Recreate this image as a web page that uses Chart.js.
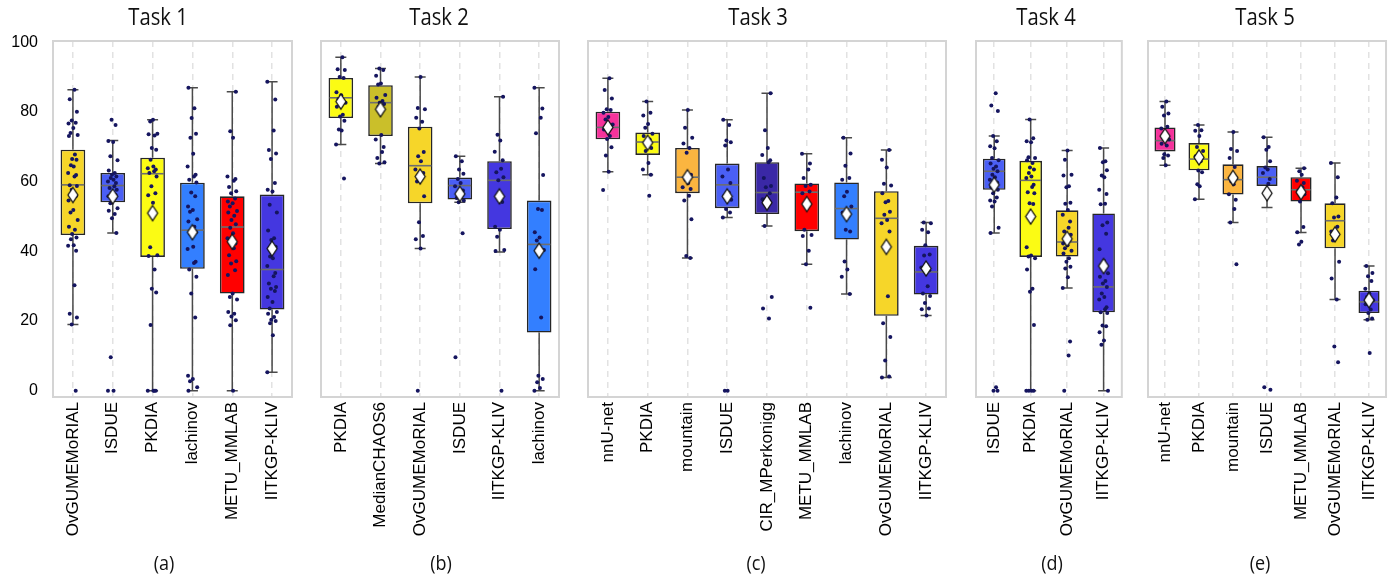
<!DOCTYPE html>
<html>
<head>
<meta charset="utf-8">
<script src="https://cdn.jsdelivr.net/npm/chart.js@4.4.1/dist/chart.umd.min.js"></script>
<style>
  html, body { margin: 0; padding: 0; background: #fff; width: 1397px; height: 581px; overflow: hidden; }
  canvas.panel { position: absolute; top: 0; }
</style>
</head>
<body>
<script>
// ---------- Task 1 ----------
const T1_TEAMS = ['OvGUMEMoRIAL', 'ISDUE', 'PKDIA', 'lachinov', 'METU_MMLAB', 'IITKGP-KLIV'];
const T1_LOW    = [19.0, 45.3, 0.0, 0.0, 0.0, 5.3];
const T1_Q1     = [44.7, 54.1, 38.4, 35.0, 27.9, 23.3];
const T1_MEDIAN = [59.1, 58.9, 62.3, 46.1, 47.0, 34.8];
const T1_Q3     = [69.2, 62.5, 66.9, 59.7, 55.8, 56.3];
const T1_HIGH   = [86.4, 71.8, 77.8, 87.0, 85.8, 88.7];
const T1_MEAN   = [56.2, 55.8, 51.0, 45.5, 42.8, 40.8];
const T1_SCORES = [
  [86.4,83.7,80.1,77.6,76.9,76.7,75.4,74.0,73.4,73.1,67.8,66.5,66.3,64.7,64.4,62.5,61.9,61.5,59.0,58.8,57.7,55.8,54.6,51.9,51.2,49.0,47.1,46.2,45.0,44.0,43.5,41.8,41.6,40.2,30.3,22.1,21.0,19.0,0],
  [77.8,76.3,71.7,71.4,67.3,66.2,63.2,62.5,62.0,61.5,61.1,60.6,60.1,59.6,58.7,58.2,57.7,56.7,56.2,55.8,55.0,53.8,52.4,51.7,50.7,49.5,45.3,9.6,0,0],
  [77.8,77.3,73.8,73.6,73.3,69.7,69.2,66.3,64.4,63.9,63.5,63.0,62.5,61.5,58.7,56.7,56.1,54.0,41.2,38.9,38.7,34.8,29.3,28.2,18.9,0,0,0,0],
  [87.0,81.1,78.3,73.8,72.6,68.0,64.4,62.0,61.5,60.6,59.8,56.9,55.8,52.9,51.9,51.4,49.2,48.6,47.1,46.2,45.5,45.0,41.3,40.7,37.0,36.7,34.8,32.7,27.9,21.0,4.3,3.4,2.7,1.0,0],
  [85.8,74.5,72.6,61.5,60.8,60.3,58.5,57.3,56.7,55.2,54.3,53.8,52.9,51.6,51.2,50.2,49.0,47.8,46.8,45.2,43.8,42.3,40.9,38.9,37.2,36.5,34.6,33.2,27.9,26.9,26.2,22.6,22.1,21.3,20.2,18.8,0],
  [88.7,83.6,74.7,69.1,68.1,66.5,59.6,57.7,57.2,53.4,51.2,46.0,43.8,43.3,41.3,38.5,38.0,35.8,33.8,32.9,30.8,29.8,29.3,28.6,26.9,25.5,23.6,22.6,22.1,21.2,20.4,20.0,19.4,15.9,5.3]
];

// ---------- Task 2 ----------
const T2_TEAMS = ['PKDIA', 'MedianCHAOS6', 'OvGUMEMoRIAL', 'ISDUE', 'IITKGP-KLIV', 'lachinov'];
const T2_LOW    = [70.7, 65.2, 40.8, 54.1, 39.8, 0.0];
const T2_Q1     = [78.3, 73.1, 53.8, 54.9, 46.4, 16.7];
const T2_MEDIAN = [84.1, 82.7, 64.6, 58.9, 60.4, 42.0];
const T2_Q3     = [89.8, 87.7, 75.8, 61.2, 65.9, 54.6];
const T2_HIGH   = [95.7, 92.5, 90.1, 67.3, 84.4, 87.0];
const T2_MEAN   = [83.0, 80.8, 61.5, 56.5, 55.8, 40.2];
const T2_SCORES = [
  [95.7,92.3,92.1,90.1,89.8,85.7,84.8,83.7,82.7,81.5,79.2,78.7,77.5,75.0,74.7,70.7,60.9],
  [92.5,92.1,90.4,88.2,87.9,84.9,84.1,83.2,82.7,82.3,81.5,73.4,72.1,70.0,68.5,66.8,65.6,65.2],
  [90.1,81.2,80.8,78.4,77.2,75.3,68.5,67.3,65.9,63.5,62.5,61.1,60.1,55.8,48.4,44.4,43.5,40.8,0],
  [67.3,65.9,63.5,62.3,60.8,59.6,58.7,57.5,56.1,55.3,54.6,54.1,45.2,9.6],
  [84.4,73.5,71.8,68.6,66.2,63.7,62.7,61.3,60.4,54.2,47.1,46.2,44.2,40.4,40.1,0],
  [87.0,81.0,78.4,73.9,61.9,52.2,51.9,45.5,44.0,43.1,40.4,34.9,21.0,4.3,3.4,2.4,0.8,0]
];

// ---------- Task 3 ----------
const T3_TEAMS = ['nnU-net', 'PKDIA', 'mountain', 'ISDUE', 'CIR_MPerkonigg', 'METU_MMLAB', 'lachinov', 'OvGUMEMoRIAL', 'IITKGP-KLIV'];
const T3_LOW    = [62.9, 62.0, 38.1, 49.7, 47.3, 36.3, 27.8, 3.8, 21.6];
const T3_Q1     = [72.2, 67.7, 56.7, 52.4, 50.7, 45.8, 43.4, 21.5, 27.6];
const T3_MEDIAN = [75.6, 71.4, 61.3, 59.1, 56.9, 57.0, 52.3, 49.5, 34.1];
const T3_Q3     = [80.1, 74.1, 69.7, 65.2, 65.6, 59.5, 59.8, 57.3, 41.6];
const T3_HIGH   = [89.7, 83.0, 80.6, 77.8, 85.4, 68.0, 72.6, 69.1, 48.3];
const T3_MEAN   = [75.6, 71.2, 61.3, 55.8, 54.0, 53.6, 50.7, 41.3, 35.1];
const T3_SCORES = [
  [89.7,86.3,83.9,80.8,80.6,79.8,78.6,77.9,76.4,75.0,73.1,72.3,69.9,67.5,62.9,57.6],
  [83.0,79.8,79.0,76.6,75.5,73.8,73.1,72.1,70.7,69.7,68.8,65.4,63.5,62.0,56.0],
  [80.6,75.5,72.6,71.0,69.7,68.3,62.0,60.6,59.6,58.4,57.9,56.0,54.6,49.2,38.7,38.1],
  [77.8,76.3,71.8,71.3,70.4,63.5,61.5,59.6,56.9,55.8,54.8,52.2,51.2,49.7,0,0],
  [85.4,74.8,69.7,67.7,66.2,65.6,61.1,58.8,58.4,56.7,55.0,53.4,47.3,26.9,23.6,20.7],
  [68.0,65.2,63.5,61.1,59.1,58.8,57.2,56.7,53.7,46.2,44.7,44.4,40.2,36.3,23.8],
  [72.6,68.1,64.6,61.1,60.6,57.1,55.8,52.9,51.2,50.2,46.2,45.7,37.1,34.8,32.7,27.8],
  [69.1,66.3,64.1,59.4,58.9,56.7,54.5,54.1,51.4,50.5,49.0,48.1,45.7,27.1,19.4,15.4,8.7,4.1,3.8],
  [48.3,48.1,46.2,45.5,41.8,39.1,38.8,36.1,35.4,34.6,30.0,27.9,27.2,25.2,23.6,23.4,21.6]
];

// ---------- Task 4 ----------
const T4_TEAMS = ['ISDUE', 'PKDIA', 'OvGUMEMoRIAL', 'IITKGP-KLIV'];
const T4_LOW    = [45.3, 0.0, 29.5, 0.0];
const T4_Q1     = [57.7, 38.4, 38.5, 22.5];
const T4_MEDIAN = [63.0, 60.4, 42.7, 29.8];
const T4_Q3     = [66.6, 66.0, 51.8, 50.9];
const T4_HIGH   = [73.1, 77.9, 69.0, 69.7];
const T4_MEAN   = [59.1, 50.0, 43.6, 35.8];
const T4_SCORES = [
  [85.4,81.9,80.3,73.1,71.6,70.2,69.6,66.8,66.2,65.2,64.4,63.7,63.0,62.0,61.3,60.6,59.8,59.1,58.4,57.7,56.7,55.5,54.6,54.3,52.9,46.8,45.3,1.0,0,0],
  [77.9,72.5,71.6,71.3,67.0,66.8,66.2,65.4,64.1,63.5,62.5,61.5,61.1,59.1,58.5,57.0,56.7,53.8,53.6,41.2,38.8,38.5,38.0,34.8,29.3,28.4,18.9,0,0,0,0],
  [69.0,66.3,62.0,61.8,58.7,58.4,54.0,53.7,51.9,50.5,48.6,46.8,45.7,44.8,44.0,43.3,42.3,41.8,40.9,40.2,39.4,38.0,37.0,35.6,35.1,32.6,29.5,14.1,10.1,0],
  [69.7,65.9,65.6,63.3,61.8,61.3,57.7,56.5,53.7,53.5,48.3,47.5,45.1,40.6,37.3,36.2,33.7,32.7,31.5,30.8,29.8,27.9,26.9,26.2,24.0,23.4,22.5,22.3,18.7,18.5,16.8,14.4,13.2,0]
];

// ---------- Task 5 ----------
const T5_TEAMS = ['nnU-net', 'PKDIA', 'mountain', 'ISDUE', 'METU_MMLAB', 'OvGUMEMoRIAL', 'IITKGP-KLIV'];
const T5_LOW    = [64.7, 55.0, 48.3, 52.6, 45.4, 26.2, 20.4];
const T5_Q1     = [68.7, 63.3, 56.3, 58.8, 54.3, 40.9, 22.3];
const T5_MEDIAN = [71.8, 66.5, 60.6, 61.3, 57.7, 48.8, 25.5];
const T5_Q3     = [75.6, 71.1, 65.0, 64.5, 61.3, 53.8, 28.7];
const T5_HIGH   = [83.0, 76.3, 74.3, 72.8, 63.9, 65.4, 35.8];
const T5_MEAN   = [73.1, 67.0, 61.1, 56.7, 57.0, 44.9, 26.0];
const T5_SCORES = [
  [83.0,81.5,79.6,79.0,75.8,75.3,74.0,72.9,72.1,70.9,70.4,67.9,67.5,66.8,64.7],
  [76.3,74.8,74.6,73.1,70.0,68.8,67.3,65.9,63.2,62.7,59.3,58.7,55.0],
  [74.3,69.4,68.8,66.8,64.2,61.7,61.1,60.1,59.3,56.4,54.8,52.2,48.3,36.3],
  [72.8,70.0,69.2,65.9,64.1,63.5,62.5,60.8,59.4,1.0,0.3],
  [63.9,63.0,62.0,60.3,59.6,58.4,57.5,56.4,54.3,47.0,45.5,42.8,42.0],
  [65.4,61.3,55.5,53.8,50.0,49.7,47.1,45.7,43.9,43.1,37.0,32.2,26.2,12.7,8.2],
  [35.8,33.8,32.9,31.5,29.3,27.9,26.9,26.0,24.8,23.3,22.3,20.7,20.4,10.8]
];

const Y_TICKS = [0, 20, 40, 60, 80, 100];
const TASK_TITLES = ['Task 1', 'Task 2', 'Task 3', 'Task 4', 'Task 5'];
const CAPTIONS = ['(a)', '(b)', '(c)', '(d)', '(e)'];

// ---------- styling ----------
const TEAM_COLORS = {
  'OvGUMEMoRIAL': '#f6d629',
  'ISDUE': '#4a5ff5',
  'PKDIA': '#fbfb14',
  'lachinov': '#337fff',
  'METU_MMLAB': '#ff0000',
  'IITKGP-KLIV': '#4437e0',
  'MedianCHAOS6': '#cabf2a',
  'nnU-net': '#f5329b',
  'mountain': '#fbb540',
  'CIR_MPerkonigg': '#3a28a6'
};
const JITTER = [0.04,-0.08,0.10,-0.03,0.07,-0.11,0.01,-0.06,0.12,-0.10,0.05,-0.02,0.09,-0.05,0.02,-0.12,0.08];
const LABEL_FONT = 'Liberation Sans, Arial, sans-serif';
const TEXT_FONT = 'Open Sans, Noto Sans, sans-serif';

// chart area bounds and text anchors for each panel (page pixels)
const PANEL_GEOM = [
  { areaL: 53,  areaR: 292,  titleX: 158,  captionX: 164 },
  { areaL: 321, areaR: 559,  titleX: 439,  captionX: 441 },
  { areaL: 588, areaR: 946,  titleX: 758,  captionX: 756 },
  { areaL: 976, areaR: 1122, titleX: 1046, captionX: 1052 },
  { areaL: 1148, areaR: 1387, titleX: 1265, captionX: 1260 }
];
const AREA_TOP = 41, AREA_BOTTOM = 397, PAGE_H = 581, XAXIS_H = 150, Y_AXIS_W = 53, SIDE_PAD = 8;

const TASKS = [
  { teams: T1_TEAMS, low: T1_LOW, q1: T1_Q1, med: T1_MEDIAN, q3: T1_Q3, high: T1_HIGH, mean: T1_MEAN, scores: T1_SCORES },
  { teams: T2_TEAMS, low: T2_LOW, q1: T2_Q1, med: T2_MEDIAN, q3: T2_Q3, high: T2_HIGH, mean: T2_MEAN, scores: T2_SCORES },
  { teams: T3_TEAMS, low: T3_LOW, q1: T3_Q1, med: T3_MEDIAN, q3: T3_Q3, high: T3_HIGH, mean: T3_MEAN, scores: T3_SCORES },
  { teams: T4_TEAMS, low: T4_LOW, q1: T4_Q1, med: T4_MEDIAN, q3: T4_Q3, high: T4_HIGH, mean: T4_MEAN, scores: T4_SCORES },
  { teams: T5_TEAMS, low: T5_LOW, q1: T5_Q1, med: T5_MEDIAN, q3: T5_Q3, high: T5_HIGH, mean: T5_MEAN, scores: T5_SCORES }
];

// tall white diamond used as the mean marker
function makeDiamond(w, h) {
  const c = document.createElement('canvas');
  c.width = w + 4; c.height = h + 4;
  const g = c.getContext('2d');
  const cx = c.width / 2, cy = c.height / 2;
  g.beginPath();
  g.moveTo(cx, 2); g.lineTo(c.width - 2, cy); g.lineTo(cx, c.height - 2); g.lineTo(2, cy);
  g.closePath();
  g.fillStyle = '#ffffff'; g.fill();
  g.lineWidth = 1.3; g.strokeStyle = '#111111'; g.stroke();
  return c;
}
const DIAMOND = makeDiamond(10, 15);

// slightly narrowed text, drawn centred on x
function drawNarrowText(ctx, text, x, y, squeeze) {
  const w = ctx.measureText(text).width;
  ctx.fillText(text, x, y, w * squeeze);
}

// whiskers + caps under the boxes, medians right after the boxes, frame and texts
const boxPlotPlugin = {
  id: 'boxPlotParts',
  beforeDatasetsDraw(chart) {
    const t = chart.options.plugins.boxPlotParts.task;
    const xs = chart.scales.x, ys = chart.scales.y, ctx = chart.ctx;
    const a = chart.chartArea;
    ctx.save();
    ctx.strokeStyle = '#d4d4d4'; ctx.lineWidth = 2;
    ctx.strokeRect(a.left, a.top, a.right - a.left, a.bottom - a.top);
    ctx.strokeStyle = '#4a4a4a'; ctx.lineWidth = 1.5;
    t.teams.forEach((_, i) => {
      const x = xs.getPixelForValue(i);
      const yl = ys.getPixelForValue(t.low[i]), yq1 = ys.getPixelForValue(t.q1[i]);
      const yq3 = ys.getPixelForValue(t.q3[i]), yh = ys.getPixelForValue(t.high[i]);
      ctx.beginPath();
      ctx.moveTo(x, yl); ctx.lineTo(x, yq1);
      ctx.moveTo(x, yq3); ctx.lineTo(x, yh);
      ctx.moveTo(x - 5.5, yl); ctx.lineTo(x + 5.5, yl);
      ctx.moveTo(x - 5.5, yh); ctx.lineTo(x + 5.5, yh);
      ctx.stroke();
    });
    ctx.restore();
  },
  afterDatasetDraw(chart, args) {
    if (args.index !== 0) return;
    const t = chart.options.plugins.boxPlotParts.task;
    const ys = chart.scales.y, ctx = chart.ctx;
    const meta = chart.getDatasetMeta(0);
    ctx.save();
    ctx.strokeStyle = '#6e6e6e'; ctx.lineWidth = 1.6;
    meta.data.forEach((bar, i) => {
      const y = ys.getPixelForValue(t.med[i]);
      ctx.beginPath();
      ctx.moveTo(bar.x - bar.width / 2 + 1, y); ctx.lineTo(bar.x + bar.width / 2 - 1, y);
      ctx.stroke();
    });
    ctx.restore();
  },
  afterDraw(chart) {
    const o = chart.options.plugins.boxPlotParts;
    const ctx = chart.ctx;
    ctx.save();
    ctx.fillStyle = '#111';
    ctx.textAlign = 'center'; ctx.textBaseline = 'alphabetic';
    ctx.font = '23px ' + TEXT_FONT;
    drawNarrowText(ctx, o.title, o.titleX, 25, 0.88);
    ctx.font = '20px ' + TEXT_FONT;
    drawNarrowText(ctx, o.caption, o.captionX, 570, 0.9);
    ctx.restore();
  }
};

TASKS.forEach((t, p) => {
  const g = PANEL_GEOM[p];
  const withY = p === 0;
  const padL = withY ? 0 : SIDE_PAD;
  const canvasLeft = g.areaL - padL - (withY ? Y_AXIS_W : 0);
  const canvasW = g.areaR + SIDE_PAD - canvasLeft;

  const cv = document.createElement('canvas');
  cv.className = 'panel';
  cv.width = canvasW; cv.height = PAGE_H;
  cv.style.left = canvasLeft + 'px';
  cv.style.width = canvasW + 'px'; cv.style.height = PAGE_H + 'px';
  document.body.appendChild(cv);

  const boxes = t.teams.map((_, i) => ({ x: i, y: [t.q1[i], t.q3[i]] }));
  const dots = [];
  t.scores.forEach((arr, i) => arr.forEach((v, j) => dots.push({ x: i + JITTER[(j + i * 3) % JITTER.length], y: v })));
  const means = t.mean.map((v, i) => ({ x: i, y: v }));

  new Chart(cv, {
    type: 'bar',
    data: {
      datasets: [
        {
          type: 'bar', data: boxes, order: 2,
          backgroundColor: t.teams.map(n => TEAM_COLORS[n]),
          borderColor: '#262626', borderWidth: 1.6, borderSkipped: false,
          categoryPercentage: 1.0, barPercentage: 0.62
        },
        {
          type: 'scatter', data: dots, order: 1,
          pointRadius: 2, pointBackgroundColor: '#15155f', pointBorderWidth: 0
        },
        {
          type: 'scatter', data: means, order: 0,
          pointStyle: DIAMOND, pointRadius: 7
        }
      ]
    },
    options: {
      responsive: false,
      animation: false,
      events: [],
      layout: { padding: { top: AREA_TOP, bottom: PAGE_H - AREA_BOTTOM - XAXIS_H, left: padL, right: SIDE_PAD } },
      plugins: {
        legend: { display: false },
        tooltip: { enabled: false },
        boxPlotParts: {
          task: t, title: TASK_TITLES[p], caption: CAPTIONS[p],
          titleX: g.titleX - canvasLeft, captionX: g.captionX - canvasLeft
        }
      },
      scales: {
        x: {
          type: 'linear', offset: false, min: -0.5, max: t.teams.length - 0.5,
          afterBuildTicks: s => { s.ticks = t.teams.map((_, i) => ({ value: i })); },
          afterFit: s => { s.height = XAXIS_H; },
          grid: { display: true, offset: false, drawTicks: false, color: '#e2e2e2', lineWidth: 1.5 },
          border: { display: false, dash: [6, 5] },
          ticks: {
            autoSkip: false, minRotation: 90, maxRotation: 90, padding: 5,
            color: '#000', font: { family: LABEL_FONT, size: 17 },
            callback: v => t.teams[v]
          }
        },
        y: {
          display: withY,
          min: -1.8, max: 100.4,
          afterBuildTicks: s => { s.ticks = Y_TICKS.map(v => ({ value: v })); },
          afterFit: s => { s.width = withY ? Y_AXIS_W : 0; },
          grid: { display: false, drawTicks: false },
          border: { display: false },
          ticks: { padding: 15, color: '#000', font: { family: LABEL_FONT, size: 16 } }
        }
      }
    },
    plugins: [boxPlotPlugin]
  });
});
</script>
</body>
</html>
